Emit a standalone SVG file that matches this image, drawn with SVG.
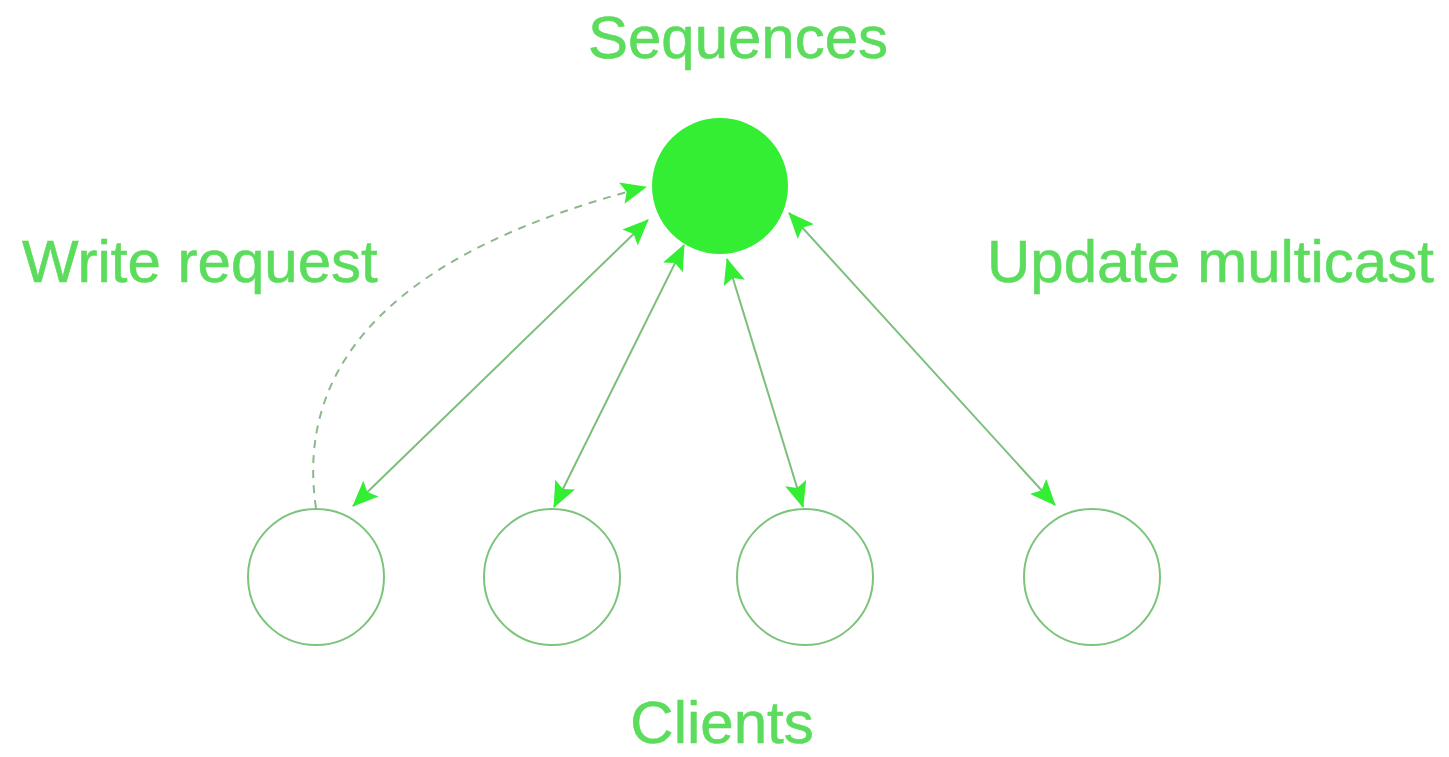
<svg xmlns="http://www.w3.org/2000/svg" width="1449" height="757" viewBox="0 0 1449 757">
  <style>
    .label { font-family: "Liberation Sans", Arial, sans-serif; font-size: 60px; fill: #5cdc5c; stroke: #5cdc5c; stroke-width: 0.6; }
    .client { fill: #ffffff; stroke: #7cc47c; stroke-width: 2; }
    .link { fill: none; stroke: #7cbf7c; stroke-width: 2; }
    .dash { fill: none; stroke: #8cb88c; stroke-width: 2; stroke-dasharray: 8 7; }
  </style>
  <defs>
    <marker id="head" viewBox="0 0 26 22" refX="25" refY="11" markerWidth="26" markerHeight="22" markerUnits="userSpaceOnUse" orient="auto-start-reverse">
      <path d="M0,0 L26,11 L0,22 L5,11 Z" fill="#33ee33"/>
    </marker>
  </defs>
  <rect width="1449" height="757" fill="#ffffff"/>

  <text class="label" x="738" y="58" text-anchor="middle">Sequences</text>
  <text class="label" x="22" y="282">Write request</text>
  <text class="label" x="987" y="282">Update multicast</text>
  <text class="label" x="722" y="743" text-anchor="middle">Clients</text>

  <g id="connectors">
    <path class="dash" d="M316,508 C294,360 400,250 646,187" marker-end="url(#head)"/>
    <line class="link" x1="353" y1="506" x2="648" y2="220" marker-start="url(#head)" marker-end="url(#head)"/>
    <line class="link" x1="554" y1="507" x2="684" y2="245" marker-start="url(#head)" marker-end="url(#head)"/>
    <line class="link" x1="803" y1="507" x2="727" y2="259" marker-start="url(#head)" marker-end="url(#head)"/>
    <line class="link" x1="1055" y1="505" x2="789" y2="213" marker-start="url(#head)" marker-end="url(#head)"/>
  </g>

  <g id="sequencer">
    <circle cx="720" cy="186" r="68" fill="#33ee33"/>
  </g>
  <g id="client-1"><circle class="client" cx="316" cy="577" r="68"/></g>
  <g id="client-2"><circle class="client" cx="552" cy="577" r="68"/></g>
  <g id="client-3"><circle class="client" cx="805" cy="577" r="68"/></g>
  <g id="client-4"><circle class="client" cx="1092" cy="577" r="68"/></g>
</svg>
